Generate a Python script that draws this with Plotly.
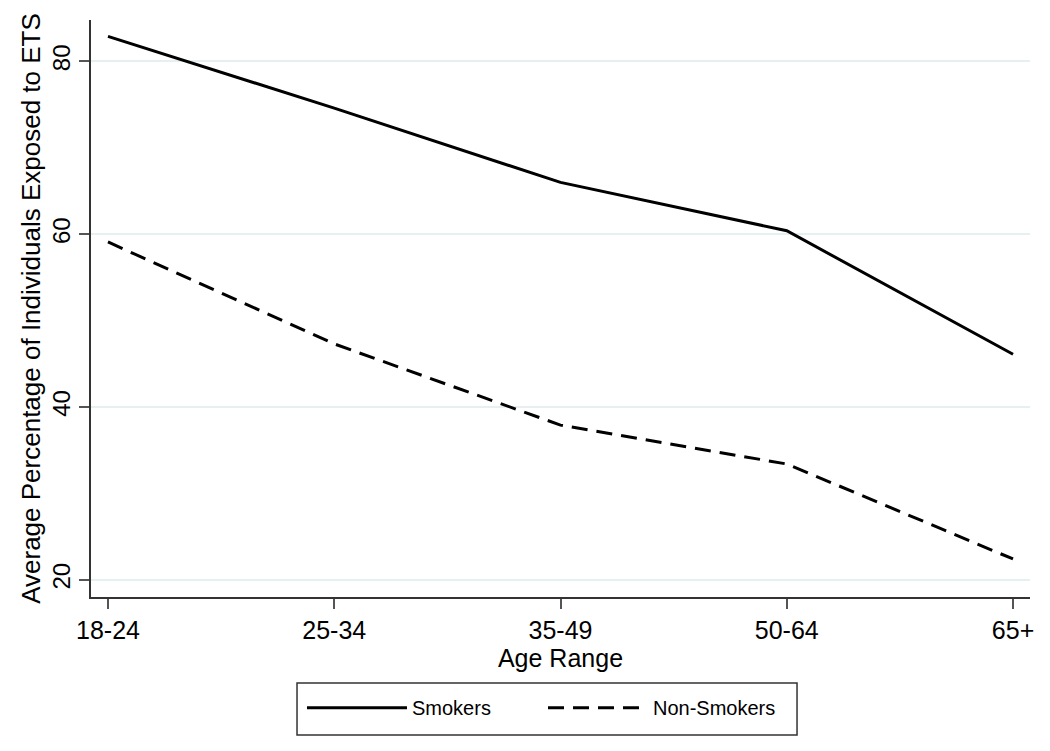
import plotly.graph_objects as go

# Age groups and average % exposed to ETS
age_groups = ["18-24", "25-34", "35-49", "50-64", "65+"]
smokers = [82.9, 74.6, 66.0, 60.4, 46.1]
non_smokers = [59.1, 47.3, 37.9, 33.4, 22.4]
y_ticks = [20, 40, 60, 80]

font_family = "Liberation Sans, Arial, sans-serif"

fig = go.Figure()
fig.add_trace(go.Scatter(
    x=age_groups, y=smokers, name="Smokers", mode="lines",
    line=dict(color="black", width=3)
))
fig.add_trace(go.Scatter(
    x=age_groups, y=non_smokers, name="Non-Smokers", mode="lines",
    line=dict(color="black", width=3, dash="16px,9px")
))

# page body adds 8px, so the figure is a bit smaller than the window
fig.update_layout(
    width=1042, height=743,
    margin=dict(l=83, r=20, t=12, b=154, autoexpand=False),
    plot_bgcolor="white", paper_bgcolor="white",
    font=dict(family=font_family, color="black"),
    showlegend=True,
    legend=dict(
        orientation="h", x=0.2247, xanchor="left", y=-0.158, yanchor="top",
        borderwidth=0, bgcolor="rgba(0,0,0,0)",
        font=dict(size=20), entrywidth=126, entrywidthmode="pixels",
        itemwidth=100,
    ),
)
# frame around the legend (Stata style box)
fig.add_shape(
    type="rect", xref="paper", yref="paper",
    x0=0.2194, x1=0.7519, y0=-0.2392, y1=-0.149,
    line=dict(color="#333", width=1.5), fillcolor="rgba(0,0,0,0)",
)
fig.update_xaxes(
    type="category", range=[-0.075, 4.075], automargin=False,
    showline=True, linecolor="#333", linewidth=1.5,
    ticks="outside", ticklen=10, tickcolor="#555", tickwidth=1.5,
    showgrid=False, tickfont=dict(size=25),
    title=dict(text="Age Range", font=dict(size=25), standoff=4),
)
fig.update_yaxes(
    range=[18.0, 84.8], tickvals=y_ticks, automargin=False,
    showline=True, linecolor="#333", linewidth=1.5,
    ticks="outside", ticklen=10, tickcolor="#555", tickwidth=1.5,
    showgrid=True, gridcolor="#e6eff2", gridwidth=1.5,
    zeroline=False, tickangle=-90, tickfont=dict(size=24),
    title=dict(text="Average Percentage of Individuals Exposed to ETS",
               font=dict(size=26), standoff=0),
)

fig.write_html("out.html")
